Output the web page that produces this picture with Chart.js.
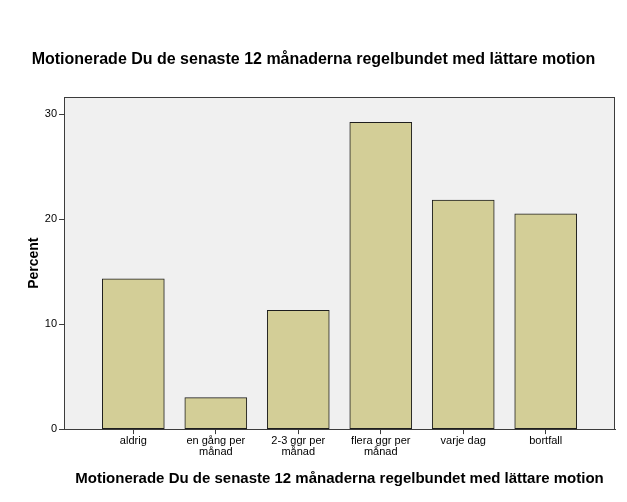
<!DOCTYPE html>
<html>
<head>
<meta charset="utf-8">
<script src="https://cdn.jsdelivr.net/npm/chart.js@4/dist/chart.umd.min.js"></script>
<style>
  html, body { margin: 0; padding: 0; background: #fff; }
  #wrap { width: 627px; height: 502px; }
</style>
</head>
<body>
<div id="wrap"><canvas id="grafica" width="627" height="502"></canvas></div>
<script>
// categories and values (percent)
var kategorier = [['aldrig'], ['en gång per', 'månad'], ['2-3 ggr per', 'månad'], ['flera ggr per', 'månad'], ['varje dag'], ['bortfall']];
var procent = [14.3, 3.0, 11.3, 29.2, 21.8, 20.5];
var yTicks = [0, 10, 20, 30];
var rubrik = 'Motionerade Du de senaste 12 månaderna regelbundet med lättare motion';

// grey plot background + frame
const ramPlugin = {
    id: 'ram',
    beforeDatasetsDraw(chart) {
        const a = chart.chartArea, c = chart.ctx;
        c.save();
        c.fillStyle = '#f0f0f0';
        c.fillRect(a.left, a.top, a.right - a.left, a.bottom - a.top);
        c.restore();
    },
    afterDraw(chart) {
        const a = chart.chartArea, c = chart.ctx;
        c.save();
        c.strokeStyle = '#3c3c3c';
        c.lineWidth = 1;
        c.strokeRect(Math.round(a.left) + 0.5, Math.round(a.top) + 0.5, Math.round(a.right - a.left) - 1, Math.round(a.bottom - a.top));
        c.restore();
    }
};

const ctx = document.getElementById('grafica');
const grafica = new Chart(ctx, {
    type: 'bar',
    data: {
        datasets: [{
            label: 'Percent',
            data: procent.map(function (v, i) { return { x: i, y: v }; }),
            backgroundColor: '#d3ce97',
            borderColor: '#1e1e1e',
            borderWidth: 1,
            borderSkipped: false,
            barThickness: 62
        }]
    },
    plugins: [ramPlugin],
    options: {
        responsive: false,
        animation: false,
        layout: { padding: { top: 50, right: 12, left: 12, bottom: 14 } },
        plugins: {
            legend: { display: false },
            tooltip: { enabled: false },
            title: {
                display: true,
                text: rubrik,
                color: '#000',
                font: { family: 'Liberation Sans', size: 16, weight: 'bold' },
                padding: { top: 0, bottom: 28 }
            }
        },
        scales: {
            x: {
                type: 'linear',
                offset: false,
                min: -0.84,
                max: 5.84,
                afterBuildTicks: function (axis) {
                    axis.ticks = kategorier.map(function (k, i) { return { value: i }; });
                },
                ticks: {
                    autoSkip: false,
                    maxRotation: 0,
                    color: '#000',
                    padding: 2,
                    font: { family: 'Liberation Sans', size: 11, lineHeight: 0.95 },
                    callback: function (v) { return kategorier[v]; }
                },
                grid: { offset: false, drawOnChartArea: false, drawTicks: true, tickLength: 5, color: '#3c3c3c' },
                border: { display: true, color: '#3c3c3c' },
                title: {
                    display: true,
                    text: rubrik,
                    color: '#000',
                    font: { family: 'Liberation Sans', size: 15, weight: 'bold' },
                    padding: { top: 11, bottom: 0 }
                }
            },
            y: {
                min: 0,
                max: 31.6,
                afterBuildTicks: function (axis) {
                    axis.ticks = yTicks.map(function (v) { return { value: v }; });
                },
                ticks: {
                    color: '#000',
                    padding: 2,
                    font: { family: 'Liberation Sans', size: 11 }
                },
                grid: { drawOnChartArea: false, drawTicks: true, tickLength: 5, color: '#3c3c3c' },
                border: { display: true, color: '#3c3c3c' },
                title: {
                    display: true,
                    text: 'Percent',
                    color: '#000',
                    font: { family: 'Liberation Sans', size: 14, weight: 'bold' },
                    padding: { top: 14, bottom: 0 }
                }
            }
        }
    }
});
</script>
</body>
</html>
